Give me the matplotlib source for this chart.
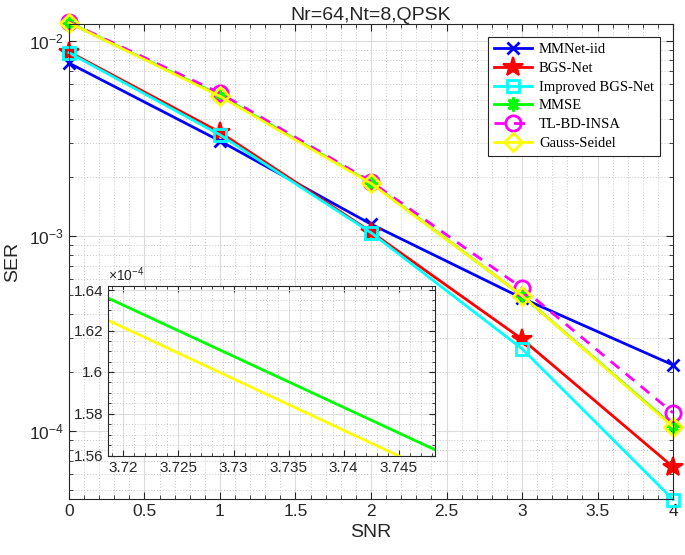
import numpy as np
import matplotlib
matplotlib.use("Agg")
import matplotlib.pyplot as plt
from matplotlib.ticker import FixedLocator, FuncFormatter, MultipleLocator, LogLocator, NullFormatter

snr = [0, 1, 2, 3, 4]

mmnet = [7.7e-3, 3.07e-3, 1.15e-3, 4.8e-4, 2.18e-4]
bgs = [8.8e-3, 3.4e-3, 1.05e-3, 2.96e-4, 6.54e-5]
imp_bgs = [8.7e-3, 3.3e-3, 1.04e-3, 2.64e-4, 4.45e-5]
mmse = [1.24e-2, 5.25e-3, 1.87e-3, 4.944e-4, 1.061e-4]
tl_bd = [1.25e-2, 5.4e-3, 1.9e-3, 5.41e-4, 1.24e-4]
gauss = [1.24e-2, 5.2e-3, 1.86e-3, 4.946e-4, 1.051e-4]

names = ["MMNet-iid", "BGS-Net", "Improved BGS-Net", "MMSE", "TL-BD-INSA", "Gauss-Seidel"]

plt.rcParams['font.family'] = ['Liberation Sans', 'DejaVu Sans']
plt.rcParams['mathtext.fontset'] = 'custom'
plt.rcParams['mathtext.rm'] = 'Liberation Sans'

axcol = '#262626'
fig = plt.figure(figsize=(6.85, 5.55), dpi=100)
ax = fig.add_axes([0.1007, 0.1009, 0.8818, 0.8559])

lw = 2.0
ax.semilogy(snr, mmnet, color='#0000ff', marker='x', ms=9, mew=2, lw=lw, label=names[0], clip_on=False)
ax.semilogy(snr, bgs, color='#ff0000', marker='*', ms=15, mew=1.5, mfc='#ff0000', lw=lw, label=names[1], clip_on=False)
ax.semilogy(snr, imp_bgs, color='#00ffff', marker='s', ms=9, mew=2, mfc='none', lw=lw, label=names[2], clip_on=False)
ax.semilogy(snr, mmse, color='#00ff00', marker=(8, 2, 0), ms=10, mew=2, lw=lw, label=names[3], clip_on=False)
ax.semilogy(snr, tl_bd, color='#ff00ff', marker='o', ms=11, mew=2, mfc='none', lw=lw, ls='--', dashes=(4, 3), label=names[4], clip_on=False)
ax.semilogy(snr, gauss, color='#ffff00', marker='D', ms=9, mew=2, mfc='none', lw=lw, label=names[5], clip_on=False)

ax.set_xlim(0, 4)
ax.set_ylim(4.48e-5, 1.222e-2)
ax.xaxis.set_major_locator(MultipleLocator(0.5))
ax.xaxis.set_major_formatter(FuncFormatter(lambda v, p: f"{v:g}"))
ax.xaxis.set_minor_locator(MultipleLocator(0.1))
ax.yaxis.set_major_locator(LogLocator(base=10, numticks=10))
ax.yaxis.set_minor_locator(LogLocator(base=10, subs=np.arange(2, 10), numticks=10))
ax.yaxis.set_minor_formatter(NullFormatter())
ax.grid(True, which='major', color='#dcdcdc', lw=0.8, ls='-')
ax.grid(True, which='minor', color='#c8c8c8', lw=0.7, ls=(0, (1, 2)))
ax.set_axisbelow(True)
ax.tick_params(which='both', direction='in', top=True, right=True, colors=axcol, labelsize=12.5)
ax.tick_params(which='major', length=5)
ax.tick_params(which='minor', length=3)
for s in ax.spines.values():
    s.set_color(axcol)
    s.set_linewidth(0.8)
ax.set_xlabel("SNR", fontsize=14, color=axcol, labelpad=4)
ax.set_ylabel("SER", fontsize=14, color=axcol, labelpad=6)
ax.set_title("Nr=64,Nt=8,QPSK", fontsize=14, color=axcol, pad=3)

leg = ax.legend(loc='upper right', prop={'family': 'Liberation Serif', 'size': 10.5},
                handlelength=2.6, labelspacing=0.38, borderpad=0.4, handletextpad=0.5,
                fancybox=False, framealpha=1, edgecolor=axcol, borderaxespad=0.9)
leg.get_frame().set_linewidth(0.8)

# inset zoom
ins = fig.add_axes([0.1577, 0.1784, 0.4774, 0.3063])
ins.semilogy(snr, mmse, color='#00ff00', lw=lw)
ins.semilogy(snr, gauss, color='#ffff00', lw=lw)
ins.set_xlim(3.7186, 3.7483)
ins.set_ylim(1.56e-4, 1.642e-4)
ins.xaxis.set_major_locator(FixedLocator([3.72, 3.725, 3.73, 3.735, 3.74, 3.745]))
ins.xaxis.set_major_formatter(FuncFormatter(lambda v, p: f"{v:g}"))
ins.xaxis.set_minor_locator(FixedLocator(np.arange(3.719, 3.749, 0.001)))
ins.yaxis.set_major_locator(FixedLocator([1.56e-4, 1.58e-4, 1.60e-4, 1.62e-4, 1.64e-4]))
ins.yaxis.set_major_formatter(FuncFormatter(lambda v, p: f"{v / 1e-4:.3g}"))
ins.yaxis.set_minor_locator(FixedLocator(np.arange(1.56e-4, 1.645e-4, 0.005e-4)))
ins.yaxis.set_minor_formatter(NullFormatter())
ins.grid(True, which='major', color='#dcdcdc', lw=0.8, ls='-')
ins.grid(True, which='minor', color='#c8c8c8', lw=0.7, ls=(0, (1, 2)))
ins.set_axisbelow(True)
ins.tick_params(which='both', direction='in', top=True, right=True, colors=axcol, labelsize=11)
ins.tick_params(which='major', length=4)
ins.tick_params(which='minor', length=2)
for s in ins.spines.values():
    s.set_color(axcol)
    s.set_linewidth(0.8)
ins.text(0.0, 1.01, r"$\times\mathregular{10^{-4}}$", transform=ins.transAxes, fontsize=10, color=axcol, va='bottom', ha='left')

fig.savefig("out.png", dpi=100)
